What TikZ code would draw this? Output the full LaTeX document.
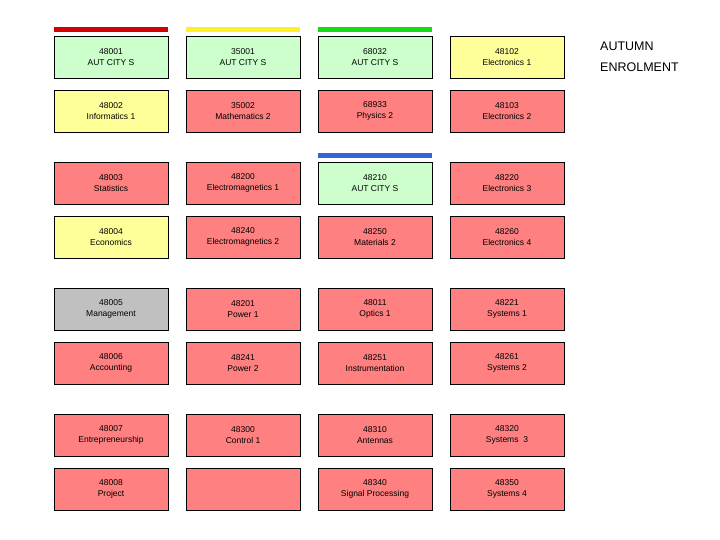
\documentclass[tikz,border=0pt]{standalone}
\usepackage{fontspec}
\setmainfont{Liberation Sans}
\definecolor{cgreen}{RGB}{204,255,204}
\definecolor{cyellow}{RGB}{255,255,153}
\definecolor{cred}{RGB}{255,128,128}
\definecolor{cgrey}{RGB}{192,192,192}
\tikzset{
  cell/.style={draw=black,line width=0.6pt,minimum width=114pt,minimum height=42pt,inner sep=0pt,align=center,font=\fontsize{8.5}{11}\selectfont},
  bar/.style={line width=5pt}
}
\begin{document}
\begin{tikzpicture}[x=1pt,y=1pt,yscale=-1]
\useasboundingbox (0,0) rectangle (720,540);

% bars
\draw [bar,color={rgb,255:red,210;green,0;blue,0}] (54,29.5) -- (168,29.5);
\draw [bar,color={rgb,255:red,255;green,240;blue,40}] (186,29.5) -- (300,29.5);
\draw [bar,color={rgb,255:red,20;green,220;blue,20}] (318,29.5) -- (432,29.5);
\draw [bar,color={rgb,255:red,50;green,100;blue,220}] (318,155.5) -- (432,155.5);

% row 1
\node [cell,fill=cgreen] (c11) at (111,57) {48001\\AUT CITY S};
\node [cell,fill=cgreen] (c12) at (243,57) {35001\\AUT CITY S};
\node [cell,fill=cgreen] (c13) at (375,57) {68032\\AUT CITY S};
\node [cell,fill=cyellow] (c14) at (507,57) {48102\\Electronics 1};
% row 2
\node [cell,fill=cyellow] (c21) at (111,111) {48002\\Informatics 1};
\node [cell,fill=cred] (c22) at (243,111) {35002\\Mathematics 2};
\node [cell,fill=cred] (c23) at (375,111) {68933\\Physics 2};
\node [cell,fill=cred] (c24) at (507,111) {48103\\Electronics 2};
% row 3
\node [cell,fill=cred] (c31) at (111,183) {48003\\Statistics};
\node [cell,fill=cred] (c32) at (243,183) {48200\\Electromagnetics 1};
\node [cell,fill=cgreen] (c33) at (375,183) {48210\\AUT CITY S};
\node [cell,fill=cred] (c34) at (507,183) {48220\\Electronics 3};
% row 4
\node [cell,fill=cyellow] (c41) at (111,237) {48004\\Economics};
\node [cell,fill=cred] (c42) at (243,237) {48240\\Electromagnetics 2};
\node [cell,fill=cred] (c43) at (375,237) {48250\\Materials 2};
\node [cell,fill=cred] (c44) at (507,237) {48260\\Electronics 4};
% row 5
\node [cell,fill=cgrey] (c51) at (111,309) {48005\\Management};
\node [cell,fill=cred] (c52) at (243,309) {48201\\Power 1};
\node [cell,fill=cred] (c53) at (375,309) {48011\\Optics 1};
\node [cell,fill=cred] (c54) at (507,309) {48221\\Systems 1};
% row 6
\node [cell,fill=cred] (c61) at (111,363) {48006\\Accounting};
\node [cell,fill=cred] (c62) at (243,363) {48241\\Power 2};
\node [cell,fill=cred] (c63) at (375,363) {48251\\Instrumentation};
\node [cell,fill=cred] (c64) at (507,363) {48261\\Systems 2};
% row 7
\node [cell,fill=cred] (c71) at (111,435) {48007\\Entrepreneurship};
\node [cell,fill=cred] (c72) at (243,435) {48300\\Control 1};
\node [cell,fill=cred] (c73) at (375,435) {48310\\Antennas};
\node [cell,fill=cred] (c74) at (507,435) {48320\\Systems~ 3};
% row 8
\node [cell,fill=cred] (c81) at (111,489) {48008\\Project};
\node [cell,fill=cred] (c82) at (243,489) {};
\node [cell,fill=cred] (c83) at (375,489) {48340\\Signal Processing};
\node [cell,fill=cred] (c84) at (507,489) {48350\\Systems 4};

% title
\node [anchor=north west,inner sep=0pt,align=left,font=\fontsize{12.5}{21}\selectfont] (title) at (600,42) {AUTUMN\\ENROLMENT};
\end{tikzpicture}
\end{document}
